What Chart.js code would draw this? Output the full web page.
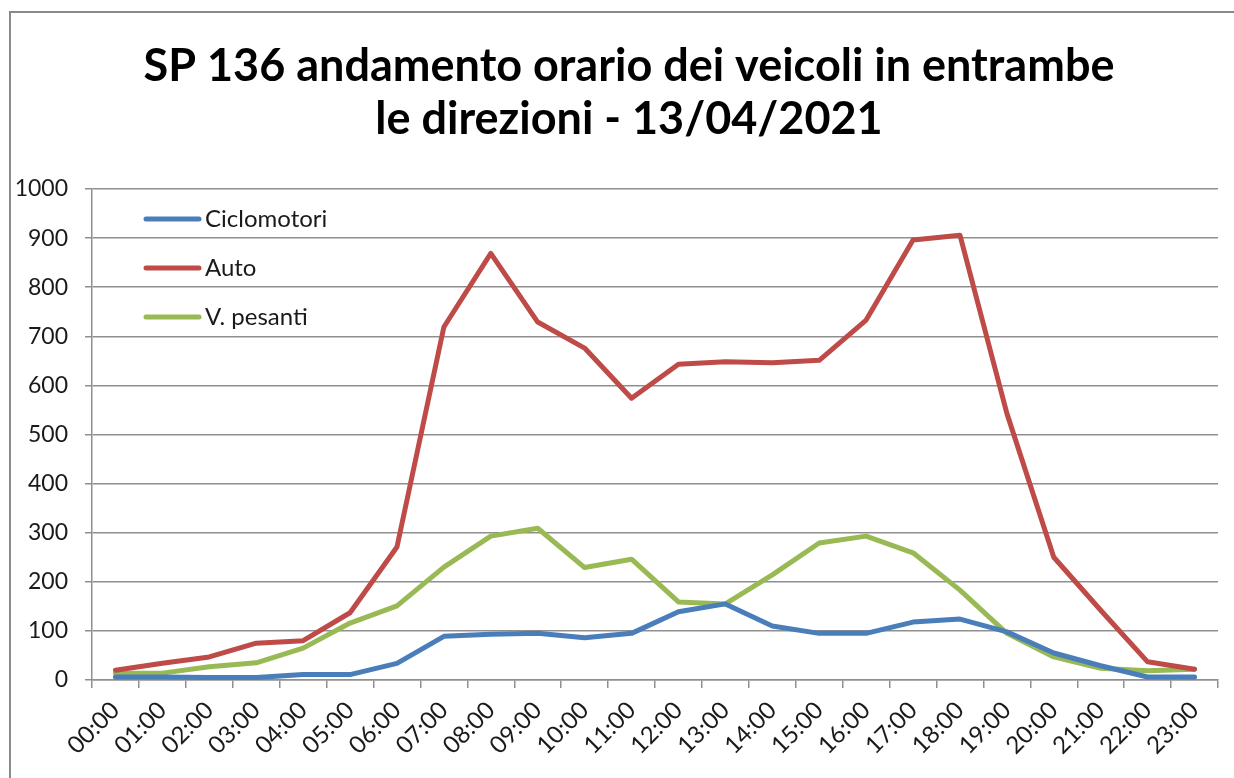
<!DOCTYPE html>
<html>
<head>
<meta charset="utf-8">
<title>SP 136 andamento orario</title>
<script src="https://cdn.jsdelivr.net/npm/chart.js@4.4.1/dist/chart.umd.min.js"></script>
<style>
  html, body { margin: 0; padding: 0; background: #fff; }
  #wrap { width: 1234px; height: 778px; position: relative; }
</style>
</head>
<body>
<div id="wrap"><canvas id="chart" width="1234" height="778"></canvas></div>
<script>
// hours of the day (x categories)
const hours = ['00:00', '01:00', '02:00', '03:00', '04:00', '05:00', '06:00', '07:00',
  '08:00', '09:00', '10:00', '11:00', '12:00', '13:00', '14:00', '15:00',
  '16:00', '17:00', '18:00', '19:00', '20:00', '21:00', '22:00', '23:00'];

// vehicles per hour
const ciclomotori = [6, 6, 5, 5, 11, 11, 34, 89, 93, 95, 86, 95,
  139, 155, 110, 95, 95, 118, 124, 98, 55, 29, 6, 6];
const auto = [20, 34, 47, 75, 80, 137, 271, 719, 869, 729, 676, 574,
  643, 648, 646, 651, 733, 896, 906, 543, 250, 142, 37, 22];
const pesanti = [14, 14, 27, 35, 65, 116, 151, 230, 293, 309, 229, 246,
  159, 155, 214, 279, 293, 259, 183, 95, 47, 24, 19, 22];

const seriesNames = ['Ciclomotori', 'Auto', 'V. pesanti'];
const titleLines = ['SP 136 andamento orario dei veicoli in entrambe', 'le direzioni - 13/04/2021'];

const FONT = 'Lato, "Open Sans", sans-serif';
const GRID = '#8f8f8f';

// outer frame of the original spreadsheet chart (top and left edges)
const framePlugin = {
  id: 'frame',
  beforeDraw(chart) {
    const ctx = chart.ctx;
    ctx.save();
    ctx.fillStyle = '#fff';
    ctx.fillRect(0, 0, chart.width, chart.height);
    ctx.strokeStyle = '#8a8a8a';
    ctx.lineWidth = 2;
    ctx.beginPath();
    ctx.moveTo(10, chart.height);
    ctx.lineTo(10, 12);
    ctx.lineTo(chart.width, 12);
    ctx.stroke();
    ctx.restore();
  }
};

// legend drawn inside the plot area, top left, like the original
const innerLegend = {
  id: 'innerLegend',
  afterDatasetsDraw(chart) {
    const ctx = chart.ctx;
    const area = chart.chartArea;
    ctx.save();
    ctx.font = '24px ' + FONT;
    ctx.textBaseline = 'middle';
    ctx.lineCap = 'round';
    chart.data.datasets.forEach((ds, i) => {
      const y = area.top + 30 + i * 49;
      const x0 = area.left + 54;
      ctx.strokeStyle = ds.borderColor;
      ctx.lineWidth = 5;
      ctx.beginPath();
      ctx.moveTo(x0, y);
      ctx.lineTo(x0 + 53, y);
      ctx.stroke();
      ctx.fillStyle = '#1a1a1a';
      ctx.fillText(ds.label, x0 + 59, y);
    });
    ctx.restore();
  }
};

const lineStyle = {
  borderWidth: 5,
  pointRadius: 0,
  pointHoverRadius: 0,
  tension: 0,
  fill: false,
  borderCapStyle: 'round',
  borderJoinStyle: 'round'
};

new Chart(document.getElementById('chart'), {
  type: 'line',
  data: {
    labels: hours,
    datasets: [
      { label: seriesNames[0], data: ciclomotori, borderColor: '#4a7ebb', backgroundColor: '#4a7ebb', ...lineStyle },
      { label: seriesNames[1], data: auto, borderColor: '#be4b48', backgroundColor: '#be4b48', ...lineStyle },
      { label: seriesNames[2], data: pesanti, borderColor: '#98b954', backgroundColor: '#98b954', ...lineStyle }
    ]
  },
  options: {
    responsive: false,
    animation: false,
    devicePixelRatio: 1,
    // negative right padding only widens the title box so it sits a bit right of centre;
    // the plot's right edge comes from the x scale padding below
    layout: { padding: { left: 12, right: -12, top: 0, bottom: 0 } },
    plugins: {
      legend: { display: false },
      tooltip: { enabled: false },
      title: {
        display: true,
        text: titleLines,
        color: '#000',
        font: { family: FONT, size: 45, weight: 'bold', lineHeight: '53px' },
        padding: { top: 40, bottom: 43 }
      }
    },
    scales: {
      x: {
        offset: true,
        grid: {
          offset: true,
          drawOnChartArea: false,
          drawTicks: true,
          tickLength: 8,
          color: GRID,
          lineWidth: 1.5
        },
        border: { display: true, color: GRID, width: 1.5 },
        ticks: {
          autoSkip: false,
          maxRotation: 45,
          minRotation: 45,
          padding: 8,
          color: '#1a1a1a',
          font: { family: FONT, size: 24 }
        },
        afterFit(scale) {
          scale.height = 98;
          scale.paddingLeft = 0;
          scale.paddingRight = 16;
        }
      },
      y: {
        min: 0,
        max: 1000,
        ticks: {
          stepSize: 100,
          padding: 17,
          color: '#1a1a1a',
          font: { family: FONT, size: 23 },
          callback: (v) => String(v)
        },
        grid: {
          color: GRID,
          lineWidth: 1.5,
          drawTicks: true,
          tickLength: 7
        },
        border: { display: true, color: GRID, width: 1.5 },
        afterFit(scale) { scale.width = 80; }
      }
    }
  },
  plugins: [framePlugin, innerLegend]
});
</script>
</body>
</html>
